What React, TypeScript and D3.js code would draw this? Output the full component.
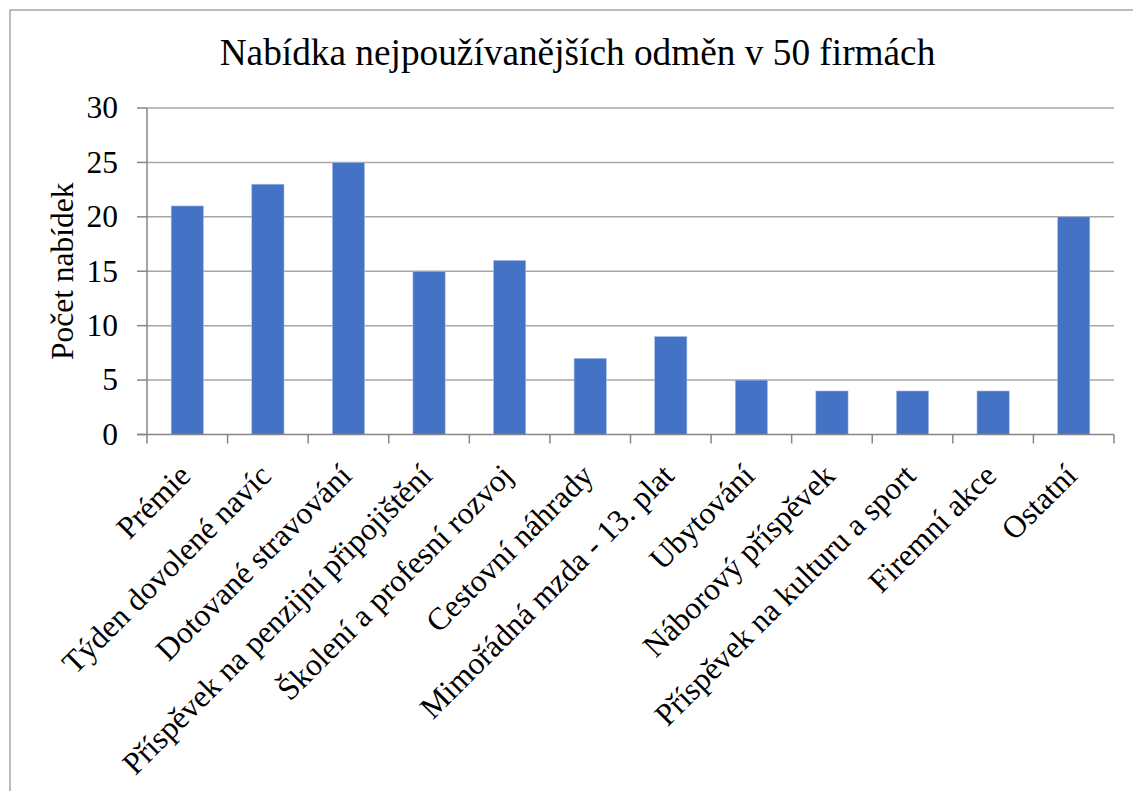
import React from 'react';
import * as d3 from 'd3';

const categories = [
  'Prémie',
  'Týden dovolené navíc',
  'Dotované stravování',
  'Příspěvek na penzijní připojištění',
  'Školení a profesní rozvoj',
  'Cestovní náhrady',
  'Mimořádná mzda - 13. plat',
  'Ubytování',
  'Náborový příspěvek',
  'Příspěvek na kulturu a sport',
  'Firemní akce',
  'Ostatní',
];
const values = [21, 23, 25, 15, 16, 7, 9, 5, 4, 4, 4, 20];
const yTicks = [0, 5, 10, 15, 20, 25, 30];
const title = 'Nabídka nejpoužívanějších odměn v 50 firmách';
const yLabel = 'Počet nabídek';

const W = 1133;
const H = 791;
const font = "'Liberation Serif', 'DejaVu Serif', serif";

export default function App() {
  const margin = { left: 147, right: W - 1114, top: 108, bottom: H - 434.5 };

  const x = d3.scaleBand<string>()
    .domain(categories)
    .range([margin.left, W - margin.right])
    .paddingInner(0.6)
    .paddingOuter(0.3);

  const band = d3.scaleBand<string>()
    .domain(categories)
    .range([margin.left, W - margin.right]);

  const y = d3.scaleLinear()
    .domain([0, 30])
    .range([H - margin.bottom, margin.top]);

  const x0 = margin.left;
  const x1 = W - margin.right;
  const y0 = y(0);

  return (
    <svg
      width={W}
      height={H}
      style={{ position: 'absolute', left: 0, top: 0, background: '#fff', fontFamily: font }}
    >
      <rect x={10} y={10} width={W + 20} height={H + 20} fill="#fff" stroke="#a6a6a6" strokeWidth={1.5} />

      <text x={577.5} y={65} textAnchor="middle" fontSize={37.3} fill="#000">
        {title}
      </text>

      {/* gridlines */}
      {yTicks.filter((t) => t > 0).map((t) => (
        <line key={t} x1={x0} x2={x1} y1={y(t)} y2={y(t)} stroke="#a6a6a6" strokeWidth={1.5} />
      ))}

      {/* bars */}
      {values.map((v, i) => (
        <rect
          key={categories[i]}
          x={x(categories[i])}
          y={y(v)}
          width={x.bandwidth()}
          height={y0 - y(v)}
          fill="#4472c4"
          stroke="#a9c1e8"
          strokeWidth={0.6}
        />
      ))}

      {/* axes */}
      <line x1={x0} x2={x0} y1={margin.top} y2={y0} stroke="#868686" strokeWidth={1.5} />
      <line x1={x0 - 10} x2={x1} y1={y0} y2={y0} stroke="#868686" strokeWidth={1.5} />
      {yTicks.map((t) => (
        <g key={t}>
          <line x1={x0 - 10} x2={x0} y1={y(t)} y2={y(t)} stroke="#868686" strokeWidth={1.5} />
          <text
            x={118}
            y={y(t)}
            dy="0.33em"
            textAnchor="end"
            fontSize={31.5}
            fill="#000"
          >
            {t}
          </text>
        </g>
      ))}
      {categories.map((c) => (
        <line key={c} x1={band(c)} x2={band(c)} y1={y0} y2={y0 + 9} stroke="#868686" strokeWidth={1.5} />
      ))}
      <line x1={x1} x2={x1} y1={y0} y2={y0 + 9} stroke="#868686" strokeWidth={1.5} />

      {categories.map((c) => {
        const cx = (band(c) ?? 0) + band.bandwidth() / 2 + 5;
        const cy = y0 + 43;
        return (
          <text
            key={c}
            transform={`translate(${cx},${cy}) rotate(-45)`}
            textAnchor="end"
            fontSize={31.5}
            fill="#000"
          >
            {c}
          </text>
        );
      })}

      <text
        transform={`translate(73,${(margin.top + y0) / 2}) rotate(-90)`}
        textAnchor="middle"
        fontSize={31.5}
        fill="#000"
      >
        {yLabel}
      </text>
    </svg>
  );
}
